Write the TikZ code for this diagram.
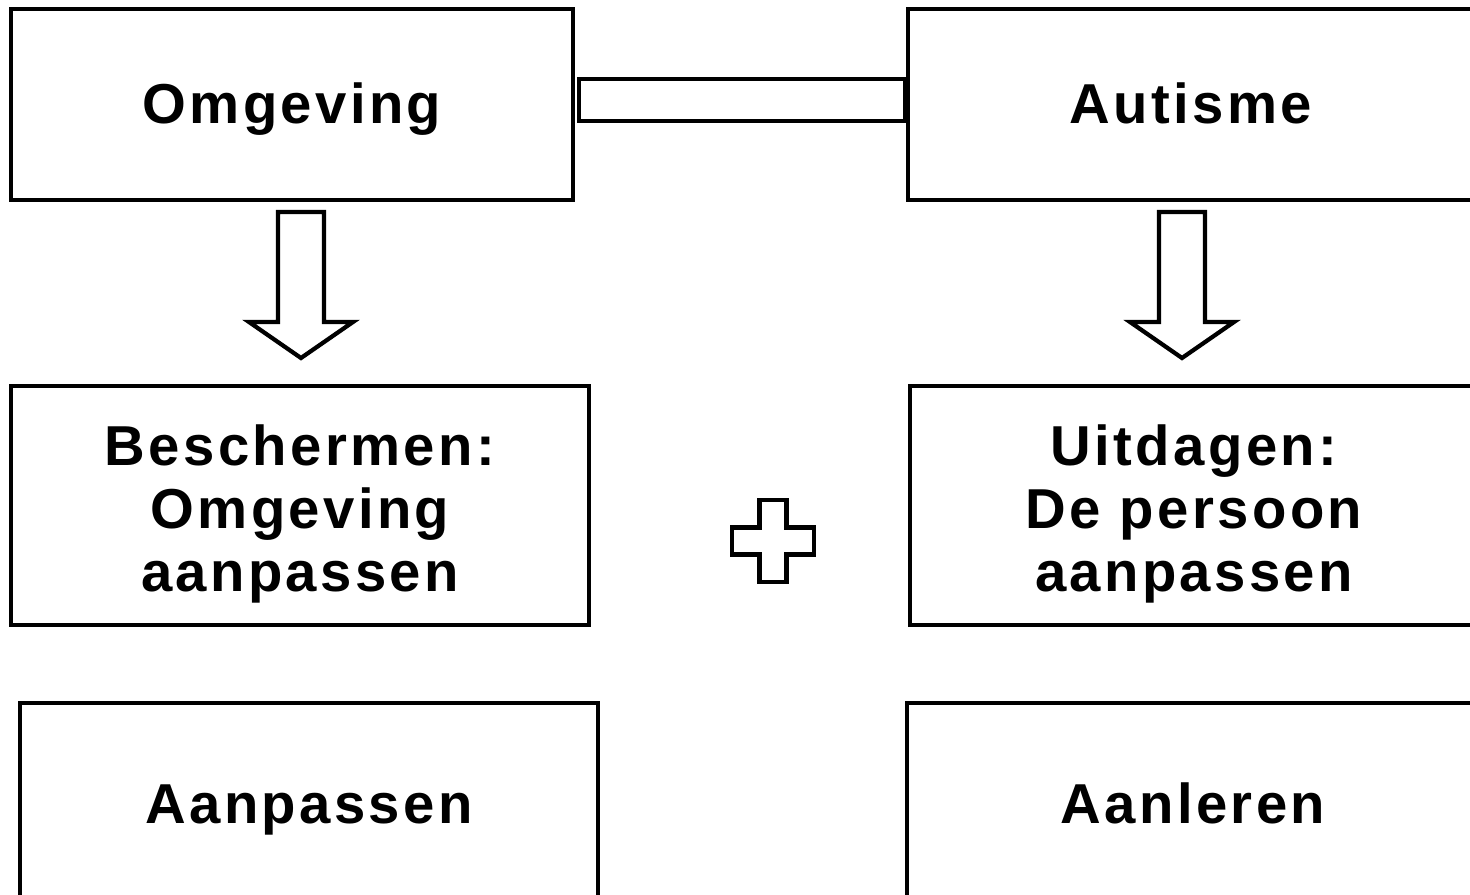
\documentclass[tikz,border=0pt]{standalone}
\usepackage{fontspec}
\setmainfont{Liberation Sans}[LetterSpace=6]
\def\downarrows{(301,212)/arrL, (1182,212)/arrR}
\tikzset{
  frame/.style={draw, line width=1.2pt, rectangle, align=center, inner sep=0pt,
    font=\bfseries\fontsize{16}{18}\selectfont},
  box/.style={frame, text height=11.5pt, text depth=0.8pt},
  tallbox/.style={frame, text height=52.5pt},
  outline/.style={draw, line width=1.2pt, line join=miter}
  }
\tikzstyle{bar} = [draw, line width=1.2pt, rectangle, inner sep=0pt]

\begin{document}
\begin{tikzpicture}[x=0.01cm, y=-0.01cm]

  % Page frame
  \path[use as bounding box, fill=white] (0,0) rectangle (1470,894);

  % The boxes
  \node[box, minimum width=5.62cm, minimum height=1.91cm] (omg) at (292,104.5) {Omgeving};
  \node[box, minimum width=5.66cm, minimum height=1.91cm] (aut) at (1191,104.5) {Autisme};
  \node[tallbox, minimum width=5.78cm, minimum height=2.39cm] (besch) at (300,505.5) {Beschermen:\\Omgeving\\aanpassen};
  \node[tallbox, minimum width=5.68cm, minimum height=2.39cm] (uitd) at (1194,505.5) {Uitdagen:\\De persoon\\aanpassen};
  \node[box, minimum width=5.78cm, minimum height=2.04cm] (aanp) at (309,805) {Aanpassen};
  \node[box, minimum width=5.72cm, minimum height=2.04cm] (aanl) at (1193,805) {Aanleren};

  % The bar between the top boxes
  \node[bar, minimum width=3.26cm, minimum height=0.42cm] (link) at (742,100) {};

  % The block arrows
  \foreach \pos/\name in \downarrows {
    \draw[outline] \pos ++(-23,0) -- ++(46,0) -- ++(0,110) -- ++(29,0)
      -- ++(-52,36) -- ++(-52,-36) -- ++(29,0) -- cycle;
  }

  % The plus sign
  \draw[outline, line width=1.3pt, shift={(773,541)}] (-13.5,-41) -- (13.5,-41) -- (13.5,-13.5)
    -- (41,-13.5) -- (41,13.5) -- (13.5,13.5) -- (13.5,41) -- (-13.5,41) -- (-13.5,13.5)
    -- (-41,13.5) -- (-41,-13.5) -- (-13.5,-13.5) -- cycle;
\end{tikzpicture}
\end{document}
